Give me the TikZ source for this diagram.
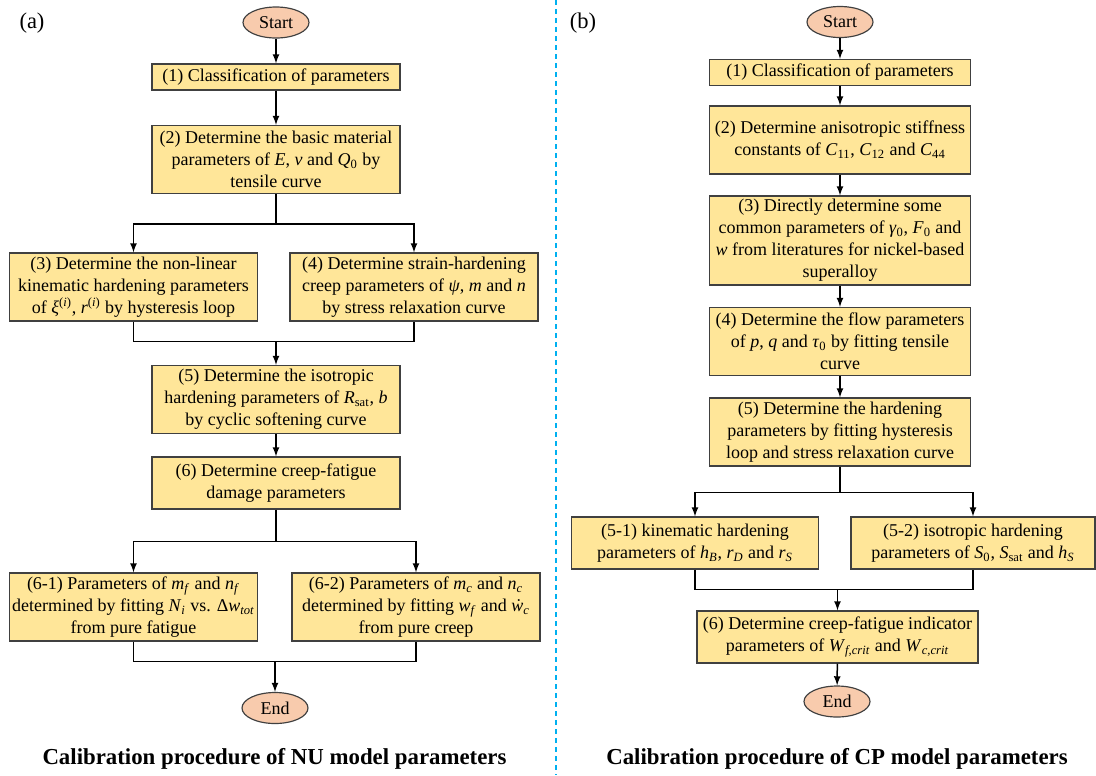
\documentclass[tikz,border=0pt]{standalone}
\usepackage{fontspec}
\setmainfont{Liberation Serif}
\usepackage{tikz}
\usetikzlibrary{shapes.geometric, positioning}
\definecolor{boxfill}{HTML}{FFE699}
\definecolor{termfill}{HTML}{F8CBAD}
\definecolor{edgegray}{HTML}{404040}
\definecolor{sepblue}{HTML}{00B0F0}
\newcommand{\ivar}[2]{\textit{#1}\textsubscript{#2}}

\begin{document}
\begin{tikzpicture}[x=0.6pt, y=-0.6pt, line width=0.9pt, >=latex,
	font=\fontsize{10.8}{13.2}\selectfont,
	proc/.style={draw=edgegray, line width=0.7pt, fill=boxfill, align=center, inner xsep=1.5pt, inner ysep=0.3pt, minimum width=148.8pt},
	term/.style={ellipse, draw=edgegray, line width=0.7pt, fill=termfill, inner sep=0pt, minimum width=39.6pt, minimum height=18.6pt},
	one/.style={minimum height=15.6pt},
	two/.style={minimum height=31.2pt},
	three/.style={minimum height=40.8pt},
	four/.style={minimum height=53.4pt},
	caption/.style={font=\fontsize{13.7}{16}\selectfont\bfseries},
	tag/.style={font=\fontsize{13.5}{16}\selectfont}]
	\useasboundingbox (0,0) rectangle (1096,775);
	% (a) NU model
	\node[tag] (taga) at (32,23) {(a)};
	\node[term] (sa) at (276,22.5) {Start};
	\node[proc, one] (a1) at (276,77) {(1) Classification of parameters};
	\node[proc, three] (a2) at (276,159.5) {(2) Determine the basic material\\parameters of \textit{E}, \textit{v} and \ivar{Q}{0} by\\tensile curve};
	\node[proc, three] (a3) at (133.5,287) {(3) Determine the non-linear\\kinematic hardening parameters\\of \textit{ξ}\textsuperscript{(\textit{i})}, \textit{r}\textsuperscript{(\textit{i})} by hysteresis loop};
	\node[proc, three] (a4) at (414,287) {(4) Determine strain-hardening\\creep parameters of \textit{ψ}, \textit{m} and \textit{n}\\by stress relaxation curve};
	\node[proc, three] (a5) at (276,399.5) {(5) Determine the isotropic\\hardening parameters of \ivar{R}{sat}, \textit{b}\\by cyclic softening curve};
	\node[proc, two] (a6) at (276,483) {(6) Determine creep-fatigue\\damage parameters};
	\node[proc, three] (a61) at (133.5,607) {(6-1) Parameters of \ivar{m}{\textit{f}} and \ivar{n}{\textit{f}}\\determined by fitting \ivar{N}{\textit{i}} vs. Δ\ivar{w}{\textit{tot}}\\from pure fatigue};
	\node[proc, three] (a62) at (416,607) {(6-2) Parameters of \ivar{m}{\textit{c}} and \ivar{n}{\textit{c}}\\determined by fitting \ivar{w}{\textit{f}} and \ivar{ẇ}{\textit{c}}\\from pure creep};
	\node[term] (ea) at (275,708) {End};
	\node[caption] (capa) at (274.5,759) {Calibration procedure of NU model parameters};
	\draw[->]
	(sa) edge (a1)
	(a1) edge (a2)
	(a5) edge (a6)
	;
	\draw[->] (a2.south) -- ++(0,30) coordinate (s1) -| (a3.north);
	\draw[->] (s1) -| (a4.north);
	\draw (a3.south) -- ++(0,20) coordinate (j1) -| (a4.south);
	\draw[->] (j1 -| a5.north) -- (a5.north);
	\draw[->] (a6.south) -- ++(0,32) coordinate (s2) -| (a61.north);
	\draw[->] (s2) -| (a62.north);
	\draw (a61.south) -- ++(0,20) coordinate (j2) -| (a62.south);
	\draw[->] (j2 -| ea.north) -- (ea.north);
	% separator
	\draw[sepblue, line width=1.2pt, dash pattern=on 3pt off 2.4pt] (556,0) -- (556,775);
	% (b) CP model
	\node[tag] (tagb) at (583,23) {(b)};
	\node[term] (sb) at (840,22) {Start};
	\node[proc, one, minimum width=156.6pt] (b1) at (840,72.5) {(1) Classification of parameters};
	\node[proc, three, minimum width=156.6pt] (b2) at (840,140) {(2) Determine anisotropic stiffness\\constants of \ivar{C}{11}, \ivar{C}{12} and \ivar{C}{44}};
	\node[proc, four, minimum width=156.6pt] (b3) at (840,240.5) {(3) Directly determine some\\common parameters of \ivar{γ}{0}, \ivar{F}{0} and\\\textit{w} from literatures for nickel-based\\superalloy};
	\node[proc, three, minimum width=156.6pt] (b4) at (840,341.5) {(4) Determine the flow parameters\\of \textit{p}, \textit{q} and \ivar{τ}{0} by fitting tensile\\curve};
	\node[proc, three, minimum width=156.6pt] (b5) at (840,432) {(5) Determine the hardening\\parameters by fitting hysteresis\\loop and stress relaxation curve};
	\node[proc, two, minimum width=148.2pt] (b51) at (695,543) {(5-1) kinematic hardening\\parameters of \ivar{h}{\textit{B}}, \ivar{r}{\textit{D}} and \ivar{r}{\textit{S}}};
	\node[proc, two, minimum width=146.4pt] (b52) at (973,543) {(5-2) isotropic hardening\\parameters of \ivar{S}{0}, \ivar{S}{sat} and \ivar{h}{\textit{S}}};
	\node[proc, two, minimum width=168.6pt] (b6) at (837.5,637) {(6) Determine creep-fatigue indicator\\parameters of \ivar{W}{\textit{f,crit}} and \ivar{W}{\textit{c,crit}}};
	\node[term] (eb) at (837,701.5) {End};
	\node[caption] (capb) at (837,759) {Calibration procedure of CP model parameters};
	\draw[->]
	(sb) edge (b1)
	(b1) edge (b2)
	(b2) edge (b3)
	(b3) edge (b4)
	(b4) edge (b5)
	(b6) edge (eb)
	;
	\draw[->] (b5.south) -- ++(0,26) coordinate (s3) -| (b51.north);
	\draw[->] (s3) -| (b52.north);
	\draw (b51.south) -- ++(0,20) coordinate (j3) -| (b52.south);
	\draw[->] (j3 -| b6.north) -- (b6.north);
\end{tikzpicture}
\end{document}
